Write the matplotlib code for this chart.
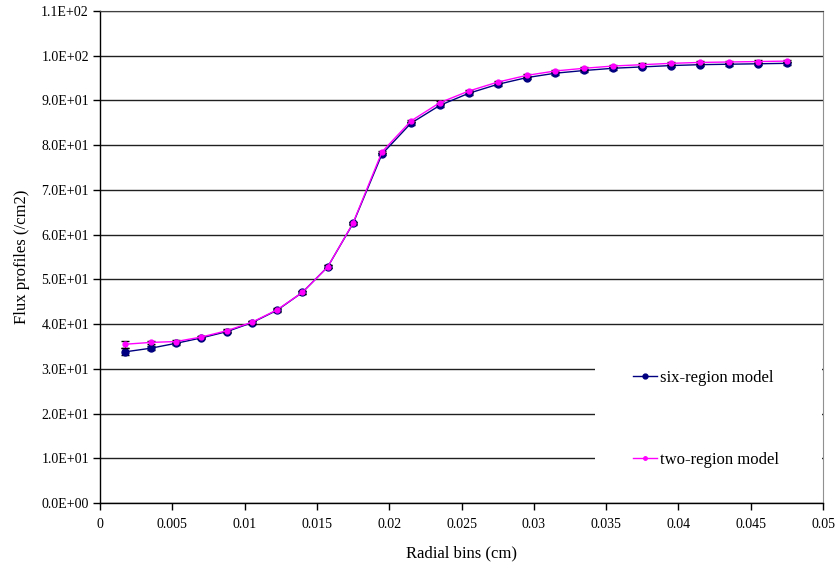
import matplotlib
matplotlib.use("Agg")
import matplotlib.pyplot as plt
from matplotlib.lines import Line2D
from matplotlib.patches import Rectangle
import numpy as np

plt.rcParams['font.family'] = ['Liberation Serif', 'DejaVu Serif']

# ---- data ----
radial_bins = [0.00175, 0.0035, 0.00525, 0.007, 0.00875, 0.0105, 0.01225, 0.014, 0.01575, 0.0175,
               0.0195, 0.0215, 0.0235, 0.0255, 0.0275, 0.0295, 0.0315, 0.0335, 0.0355, 0.0375,
               0.0395, 0.0415, 0.0435, 0.0455, 0.0475]
six_region = [33.8, 34.6, 35.7, 36.9, 38.3, 40.3, 43.1, 47.1, 52.8, 62.5,
              78.0, 84.9, 88.9, 91.6, 93.6, 95.1, 96.1, 96.7, 97.2, 97.5,
              97.8, 98.0, 98.1, 98.2, 98.3]
two_region = [35.5, 35.9, 36.1, 37.1, 38.5, 40.4, 43.2, 47.1, 52.8, 62.6,
              78.5, 85.4, 89.5, 92.1, 94.1, 95.6, 96.6, 97.2, 97.7, 98.0,
              98.3, 98.5, 98.6, 98.7, 98.8]
six_err = [0.8, 0.4] + [0.3] * 23
two_err = [0.8, 0.4] + [0.3] * 23
x_ticks = [0, 0.005, 0.01, 0.015, 0.02, 0.025, 0.03, 0.035, 0.04, 0.045, 0.05]
x_tick_labels = ['0', '0.005', '0.01', '0.015', '0.02', '0.025', '0.03', '0.035', '0.04', '0.045', '0.05']
y_ticks = [0, 10, 20, 30, 40, 50, 60, 70, 80, 90, 100, 110]
y_tick_labels = ['0.0E+00', '1.0E+01', '2.0E+01', '3.0E+01', '4.0E+01', '5.0E+01',
                 '6.0E+01', '7.0E+01', '8.0E+01', '9.0E+01', '1.0E+02', '1.1E+02']
labels = ['six-region model', 'two-region model']

navy = '#000080'
magenta = '#FF00FF'

fig = plt.figure(figsize=(8.4, 5.69), dpi=100)
ax = fig.add_axes([100/840, 1 - 503/569, 723/840, 492/569])

ax.errorbar(radial_bins, six_region, yerr=six_err, color=navy, lw=1.0, marker='o', ms=5,
            mfc=navy, mec=navy, ecolor='black', elinewidth=0.8, capsize=3, capthick=1.0, zorder=3)
ax.errorbar(radial_bins, two_region, yerr=two_err, color=magenta, lw=1.0, marker='o', ms=3.5,
            mfc=magenta, mec=magenta, ecolor='black', elinewidth=0.8, capsize=3, capthick=1.0, zorder=4)

ax.set_xlim(0, 0.05)
ax.set_ylim(0, 110)
ax.set_xticks(x_ticks)
ax.set_xticklabels(x_tick_labels)
ax.set_yticks(y_ticks)
ax.set_yticklabels(y_tick_labels)
ax.tick_params(axis='both', direction='out', length=5, width=1, labelsize=10, colors='black')
ax.tick_params(axis='x', pad=6)
ax.tick_params(axis='y', pad=3)

ax.set_axisbelow(True)
ax.yaxis.grid(True, color='#202020', lw=1.0)
for s in ['left', 'bottom']:
    ax.spines[s].set_color('black')
    ax.spines[s].set_linewidth(1.0)
ax.spines['top'].set_color('#404040')
ax.spines['right'].set_color('#909090')

ax.set_xlabel('Radial bins (cm)', fontsize=12, labelpad=10)
ax.set_ylabel('Flux profiles (/cm2)', fontsize=12, labelpad=8)

# legend background box (covers gridlines)
ax.add_patch(Rectangle((0.685, 0.015), 0.314, 0.325, transform=ax.transAxes,
                       facecolor='white', edgecolor='none', zorder=1))

handles = [Line2D([], [], color=navy, lw=1.0, marker='o', ms=3.5),
           Line2D([], [], color=magenta, lw=1.0, marker='o', ms=2.5)]
leg = ax.legend(handles, labels, loc='upper left', bbox_to_anchor=(0.737, 0.27),
                frameon=False, fontsize=12, handlelength=1.45, handletextpad=0.2,
                labelspacing=3.95, borderaxespad=0, borderpad=0)

fig.savefig('out.png', dpi=100)
